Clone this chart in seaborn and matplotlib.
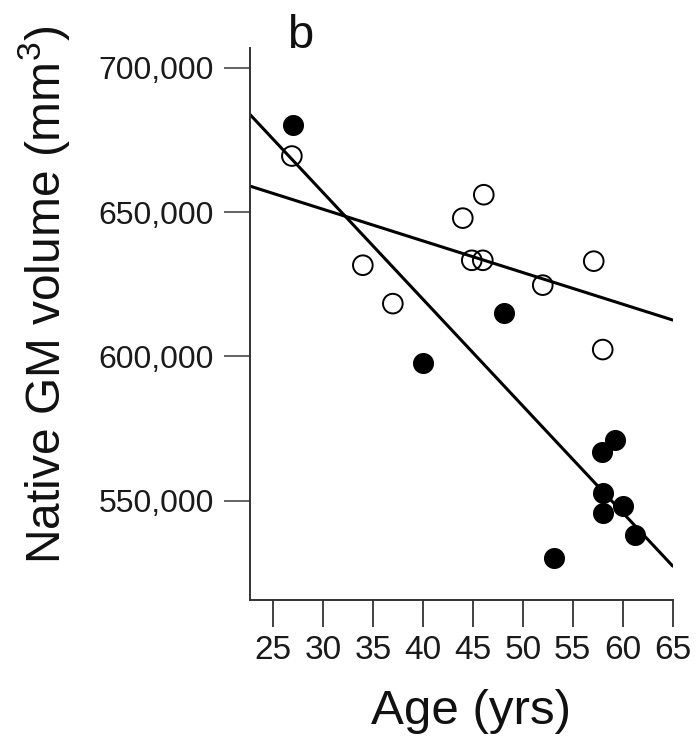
import matplotlib
matplotlib.use("Agg")
import matplotlib.pyplot as plt
from matplotlib.ticker import FuncFormatter
import seaborn as sns
import pandas as pd

# Grey-matter volume by age for the two groups
filled_age = [27.0, 40.0, 48.1, 53.1, 57.9, 59.2, 58.0, 58.0, 60.0, 61.2]
filled_vol = [680000, 597600, 614900, 530200, 567100, 571100, 552700, 545800, 548100, 538300]
open_age = [26.9, 34.0, 37.0, 44.0, 46.1, 44.9, 46.0, 52.0, 57.1, 58.0]
open_vol = [669400, 631600, 618300, 647900, 656000, 633300, 633300, 624700, 633000, 602400]

x_ticks = [25, 30, 35, 40, 45, 50, 55, 60, 65]
y_ticks = [550000, 600000, 650000, 700000]

filled = pd.DataFrame({"age": filled_age, "vol": filled_vol})
hollow = pd.DataFrame({"age": open_age, "vol": open_vol})

sns.set_theme(style="ticks")
plt.rcParams["font.family"] = ["Liberation Sans", "DejaVu Sans"]
plt.rcParams["mathtext.fontset"] = "custom"
plt.rcParams["mathtext.rm"] = "Liberation Sans"

fig = plt.figure(figsize=(7.0, 7.45), dpi=100)
ax = fig.add_axes([0.357, 0.1946, 0.604, 0.741])

xlim = (22.7, 65.0)
ylim = (515700, 706800)
ax.set_xlim(*xlim)
ax.set_ylim(*ylim)

line_kws = dict(color="black", lw=2.2)
sns.regplot(data=hollow, x="age", y="vol", ax=ax, ci=None, truncate=False,
            scatter_kws=dict(s=200, facecolors="none", edgecolors="black",
                             linewidths=1.4, alpha=1, zorder=3),
            line_kws=line_kws, color="black")
sns.regplot(data=filled, x="age", y="vol", ax=ax, ci=None, truncate=False,
            scatter_kws=dict(s=200, facecolors="black", edgecolors="black",
                             linewidths=1.0, alpha=1, zorder=3),
            line_kws=line_kws, color="black")

ax.set_xlim(*xlim)
ax.set_ylim(*ylim)
ax.set_xticks(x_ticks)
ax.set_yticks(y_ticks)
ax.yaxis.set_major_formatter(FuncFormatter(lambda v, _: f"{v:,.0f}"))

sns.despine(ax=ax)
for side in ("left", "bottom"):
    ax.spines[side].set_color("#333333")
    ax.spines[side].set_linewidth(1.4)

ax.tick_params(axis="x", length=19.5, width=1.3, color="#333333", pad=6,
               labelsize=24, labelcolor="#1a1a1a")
ax.tick_params(axis="y", length=19, width=1.3, color="#555555", pad=7,
               labelsize=23, labelcolor="#1a1a1a")

ax.set_xlabel("Age (yrs)", fontsize=35.5, color="#111111")
ax.xaxis.set_label_coords(0.5225, -0.161)
ax.set_ylabel("Native GM volume (mm$^3$)", fontsize=34.5, color="#111111")
ax.yaxis.label.set_va("center")
ax.yaxis.set_label_coords(-0.487, 0.553)

fig.text(0.41, 1 - 48 / 745, "b", fontsize=34, color="#111111",
         ha="left", va="baseline")

fig.savefig("out.png", dpi=100, facecolor="white")
